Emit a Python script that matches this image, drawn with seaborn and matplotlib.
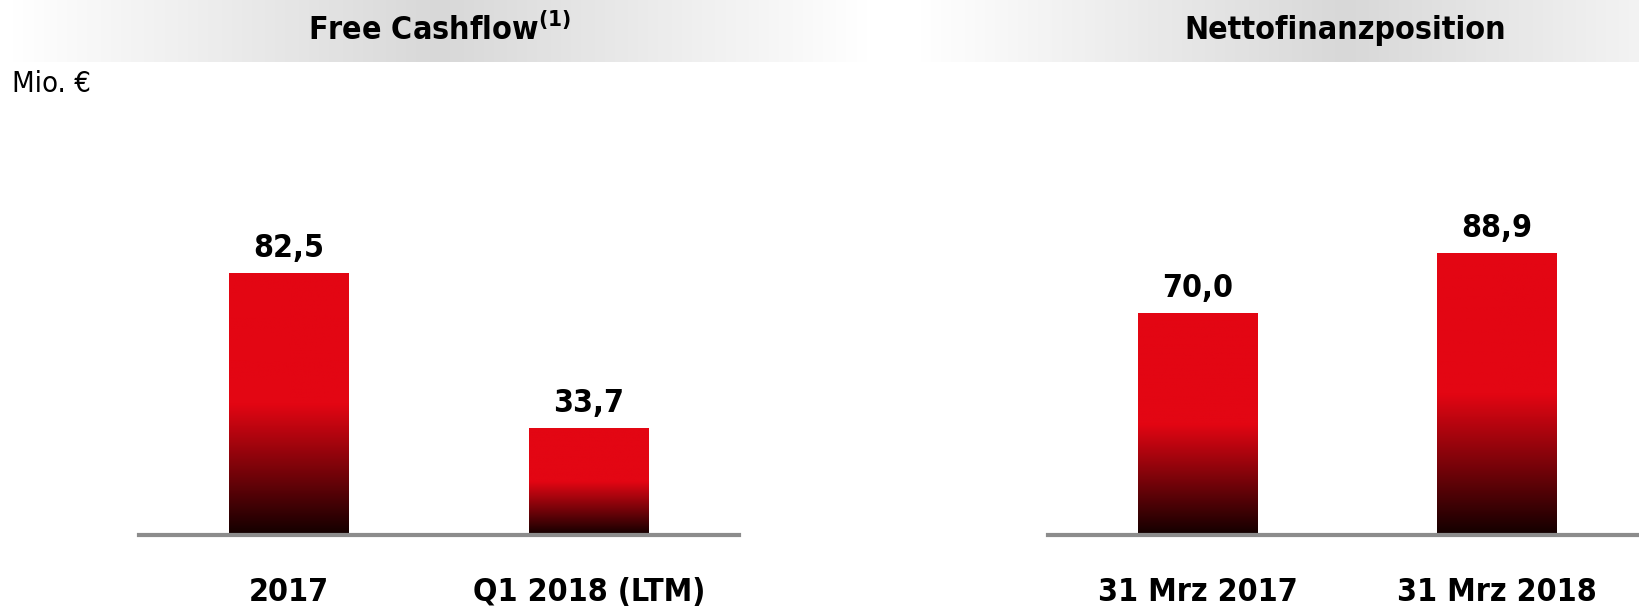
import matplotlib
matplotlib.use("Agg")
import matplotlib.pyplot as plt
import numpy as np
import pandas as pd
import seaborn as sns
from matplotlib.colors import LinearSegmentedColormap

# data
fcf_labels = ["2017", "Q1 2018 (LTM)"]
fcf_values = [82.5, 33.7]
nfp_labels = ["31 Mrz 2017", "31 Mrz 2018"]
nfp_values = [70.0, 88.9]

RED = "#e30613"

sns.set_style("white")
plt.rcParams["font.family"] = ["DejaVu Sans"]
plt.rcParams["font.stretch"] = "condensed"
plt.rcParams["text.color"] = "black"
plt.rcParams["xtick.color"] = "black"

W, H = 1639, 609
fig = plt.figure(figsize=(W / 100, H / 100), dpi=100)

# red -> black gradient, red on top half, black at the bottom
bar_cmap = LinearSegmentedColormap.from_list(
    "rb", [(0.0, "#120000"), (0.5, RED), (1.0, RED)])
band_cmap = LinearSegmentedColormap.from_list(
    "band", [(0.0, "#ffffff"), (0.5, "#d8d8d8"), (1.0, "#ffffff")])


def px_axes(x0, y0, x1, y1):
    # pixel box (from top-left) to figure axes
    return fig.add_axes([x0 / W, 1 - y1 / H, (x1 - x0) / W, (y1 - y0) / H])


def header(x0, x1):
    bax = px_axes(x0, 0, x1, 62)
    grad = np.linspace(0, 1, 256).reshape(1, -1)
    bax.imshow(grad, aspect="auto", cmap=band_cmap, extent=[0, 1, 0, 1])
    bax.set_axis_off()
    return bax


def panel(ax, labels, values, xmax):
    df = pd.DataFrame({"cat": labels, "val": values})
    sns.barplot(data=df, x="cat", y="val", ax=ax, color=RED, width=0.4,
                saturation=1, zorder=2)
    grad = np.linspace(0, 1, 256).reshape(-1, 1)
    for p in ax.patches:
        x, y = p.get_x(), p.get_y()
        w, h = p.get_width(), p.get_height()
        im = ax.imshow(grad, cmap=bar_cmap, aspect="auto", origin="lower",
                       extent=[x, x + w, y, y + h], zorder=3)
        im.set_clip_path(p)
        ax.text(x + w / 2, h + 3, f"{h:.1f}".replace(".", ","), ha="center",
                va="bottom", fontsize=23, fontweight="bold")
    ax.set_xlim(-0.5, xmax)
    ax.set_ylim(0, 100)
    ax.set_xlabel("")
    ax.set_ylabel("")
    ax.set_yticks([])
    ax.tick_params(axis="x", length=0, pad=30, labelsize=23)
    for lab in ax.get_xticklabels():
        lab.set_fontweight("bold")
    sns.despine(ax=ax, left=True)
    ax.spines["bottom"].set_color("#8c8c8c")
    ax.spines["bottom"].set_linewidth(3)
    ax.spines["bottom"].set_zorder(4)
    ax.set_facecolor("none")


# header bands
header(10, 870)
header(918, 1772)
fig.text(439 / W, 1 - 30 / H, r"Free Cashflow$^{\mathregular{(1)}}$",
         ha="center", va="center", fontsize=23, fontweight="bold")
fig.text(1345 / W, 1 - 30 / H, "Nettofinanzposition", ha="center",
         va="center", fontsize=23, fontweight="bold")
fig.text(12 / W, 1 - 84 / H, "Mio. €", ha="left", va="center", fontsize=21)

# bar panels, baseline at y=535 px, 3.17 px per unit
ax1 = px_axes(139, 535 - 317, 739, 535)
panel(ax1, fcf_labels, fcf_values, 1.5)
ax2 = px_axes(1048, 535 - 317, 1641, 535)
panel(ax2, nfp_labels, nfp_values, 1.48)

fig.savefig("out.png", dpi=100)
